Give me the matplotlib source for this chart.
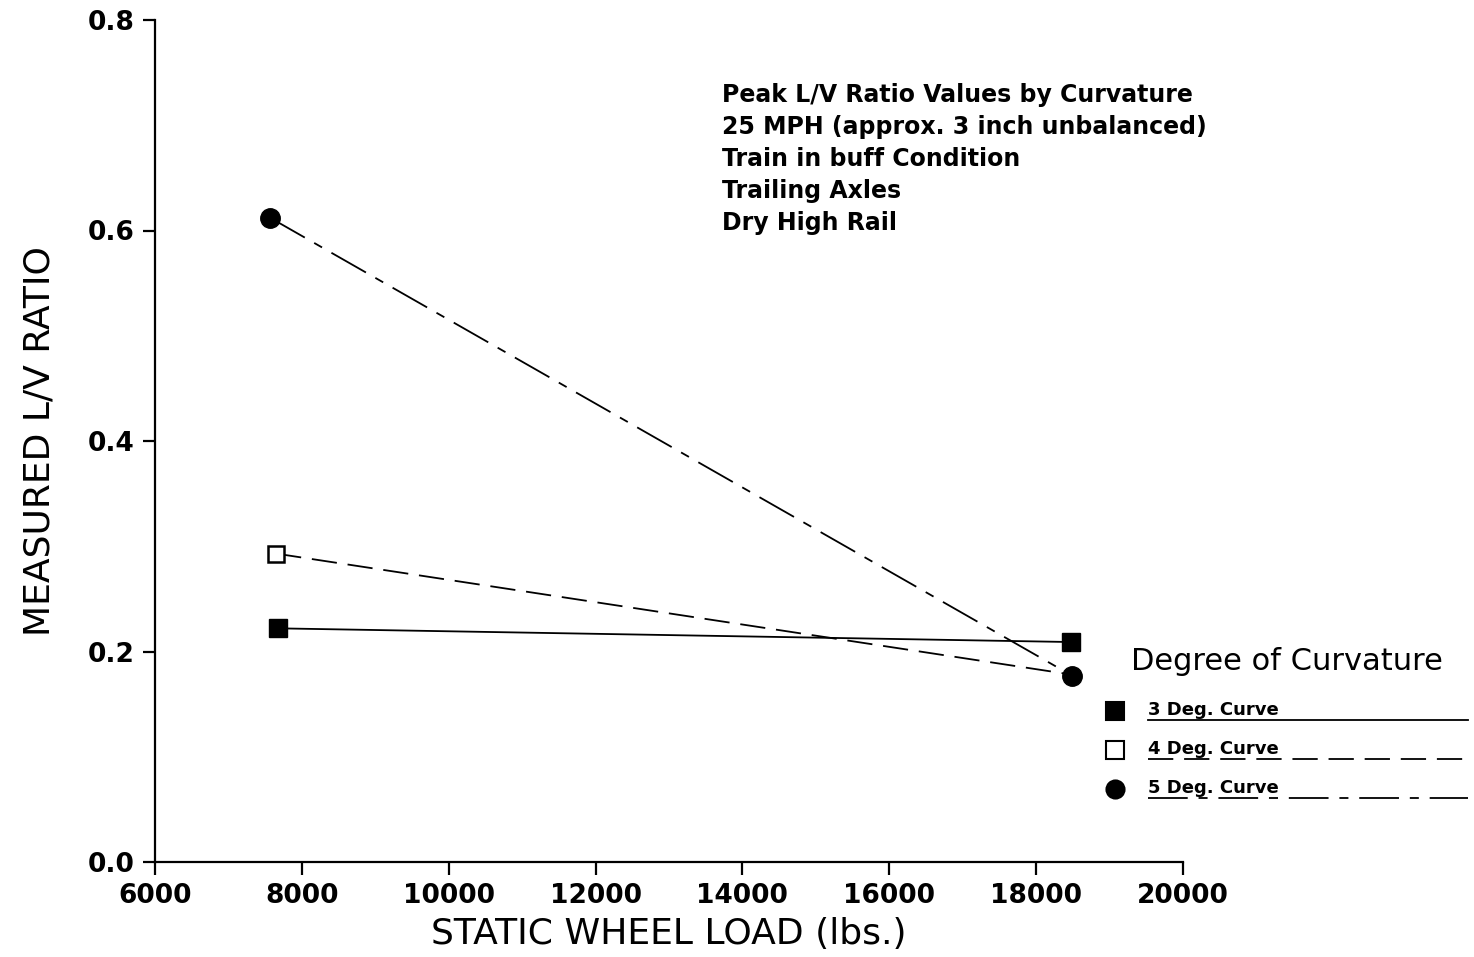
import matplotlib

matplotlib.use("Agg")
import matplotlib.pyplot as plt
from matplotlib.lines import Line2D

# values
curve_3deg_x = [7680, 18470]
curve_3deg = [0.222, 0.209]
curve_4deg_x = [7650, 18490]
curve_4deg = [0.293, 0.178]
curve_5deg_x = [7570, 18490]
curve_5deg = [0.612, 0.177]

x_ticks = [6000, 8000, 10000, 12000, 14000, 16000, 18000, 20000]
y_ticks = [0.0, 0.2, 0.4, 0.6, 0.8]

note_lines = [
    "Peak L/V Ratio Values by Curvature",
    "25 MPH (approx. 3 inch unbalanced)",
    "Train in buff Condition",
    "Trailing Axles",
    "Dry High Rail",
]
legend_title = "Degree of Curvature"
legend_labels = ["3 Deg. Curve", "4 Deg. Curve", "5 Deg. Curve"]

W, H = 1474, 957
fig = plt.figure(figsize=(W / 100, H / 100), dpi=100)
ax = fig.add_axes([155 / W, 1 - 862 / H, (1183 - 155) / W, (862 - 20) / H])

dash_45 = (0, (14, 6))
dashdot_5 = (0, (22, 6, 5, 6))

ax.plot(curve_3deg_x, curve_3deg, color="black", lw=1.3, marker="s",
        ms=13, mfc="black", mec="black", zorder=3)
# the 4 deg end point sits under the 5 deg circle
ax.plot(curve_4deg_x, curve_4deg, color="black", lw=1.3, ls=dash_45,
        marker="s", ms=12, mfc="white", mec="black", mew=1.8,
        markevery=[0], zorder=2)
ax.plot(curve_5deg_x, curve_5deg, color="black", lw=1.3, ls=dashdot_5,
        marker="o", ms=14, mfc="black", mec="black", zorder=4)

ax.set_xlim(6000, 20000)
ax.set_ylim(0.0, 0.8)
ax.set_xticks(x_ticks)
ax.set_yticks(y_ticks)
ax.set_yticklabels([f"{v:.1f}" for v in y_ticks])
for side in ("top", "right"):
    ax.spines[side].set_visible(False)
for side in ("left", "bottom"):
    ax.spines[side].set_linewidth(1.6)
ax.tick_params(direction="out", length=9, width=1.6, labelsize=19, pad=6)
for lab in ax.get_xticklabels() + ax.get_yticklabels():
    lab.set_fontweight("bold")

ax.set_xlabel("STATIC WHEEL LOAD (lbs.)", fontsize=26, labelpad=6)
ax.set_ylabel("MEASURED L/V RATIO", fontsize=26, labelpad=22)

for i, line in enumerate(note_lines):
    fig.text(722 / W, 1 - (95 + 32 * i) / H, line, fontsize=17,
             fontweight="bold", va="center", ha="left")

# hand-drawn style legend below the plot area
fig.text(1287 / W, 1 - 662 / H, legend_title, fontsize=22, ha="center",
         va="center")
styles = ["-", dash_45, dashdot_5]
markers = [("s", "black"), ("s", "white"), ("o", "black")]
for i, label in enumerate(legend_labels):
    yc = 711 + 39 * i
    m, fc = markers[i]
    fig.add_artist(Line2D([1115 / W], [1 - yc / H], marker=m, ms=13,
                          mfc=fc, mec="black", mew=1.5, ls="none"))
    fig.text(1148 / W, 1 - (yc - 1) / H, label, fontsize=13,
             fontweight="bold", va="center", ha="left")
    fig.add_artist(Line2D([1148 / W, 1468 / W], [1 - (yc + 9) / H] * 2,
                          color="black", lw=1.3, ls=styles[i]))

fig.savefig("out.png", dpi=100, facecolor="white")
